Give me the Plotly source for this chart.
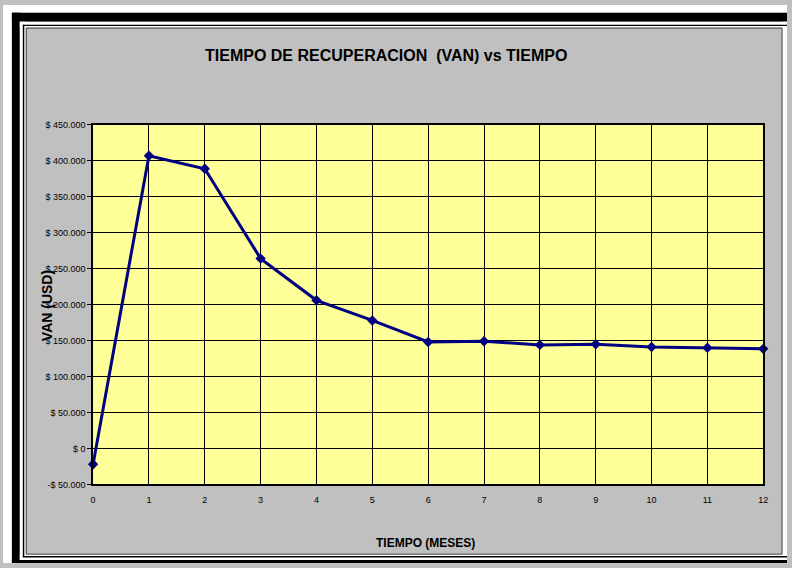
import plotly.graph_objects as go

W, H = 792, 568

# data
meses = [0, 1, 2, 3, 4, 5, 6, 7, 8, 9, 10, 11, 12]
van = [-22000, 407000, 389000, 264000, 206000, 178000, 148000,
       149000, 144000, 145000, 141000, 140000, 138500]

y_ticks = [-50000, 0, 50000, 100000, 150000, 200000, 250000, 300000, 350000, 400000, 450000]
y_labels = ["-$ 50.000", "$ 0", "$ 50.000", "$ 100.000", "$ 150.000", "$ 200.000",
            "$ 250.000", "$ 300.000", "$ 350.000", "$ 400.000", "$ 450.000"]

FONT = "Liberation Sans, Arial, sans-serif"


# page pixel -> paper fraction
def px(x):
    return x / W


def py(y):
    return 1 - y / H


fig = go.Figure()
fig.add_trace(go.Scatter(
    x=meses, y=van, mode="lines+markers",
    line=dict(color="#000080", width=3),
    marker=dict(symbol="diamond", size=8, color="#000080"),
    cliponaxis=False, showlegend=False
))


def rect(x0, y0, x1, y1, fill=None, line=None, lw=0):
    return dict(type="rect", xref="paper", yref="paper", layer="below",
                x0=px(x0), x1=px(x1), y0=py(y0), y1=py(y1),
                fillcolor=fill if fill else "rgba(0,0,0,0)",
                line=dict(color=line if line else "rgba(0,0,0,0)", width=lw))


# frame around the chart
shapes = [
    rect(0, 0, W, 8, fill="white"),
    rect(0, 0, 9, H, fill="white"),
    rect(9, 8, W, 17, fill="black"),
    rect(9, 8, 17, H, fill="black"),
    rect(9, 565, W, H, fill="black"),
    rect(17, 17, W, 23, fill="white"),
    rect(17, 17, 23, 565, fill="white"),
    rect(787, 17, W, 565, fill="white"),
    rect(17, 559, W, 565, fill="white"),
    # thin black inner frame (left, top, bottom only)
    rect(20, 20, 21.5, 562, fill="black"),
    rect(20, 20, W, 21.5, fill="black"),
    rect(20, 561, W, 562.5, fill="black"),
    rect(23.5, 23.5, 787, 559, line="#404040", lw=1),
]

fig.update_layout(
    width=W, height=H,
    margin=dict(l=0, r=0, t=0, b=0),
    paper_bgcolor="#C0C0C0",
    plot_bgcolor="#FFFF99",
    font=dict(family=FONT, color="black"),
    shapes=shapes,
    xaxis=dict(
        domain=[px(91), px(768)], range=[0, 12],
        tickvals=meses, ticktext=[str(m) for m in meses],
        showgrid=True, gridcolor="black", gridwidth=1,
        showline=True, linecolor="black", linewidth=1.5, mirror=True,
        ticks="", ticklabelstandoff=6,
        tickfont=dict(size=9, family=FONT), zeroline=False
    ),
    yaxis=dict(
        domain=[py(488), py(122)], range=[-50000, 450000],
        tickvals=y_ticks, ticktext=y_labels,
        showgrid=True, gridcolor="black", gridwidth=1,
        showline=True, linecolor="black", linewidth=1.5, mirror=True,
        ticks="outside", ticklen=4, tickcolor="black",
        tickfont=dict(size=9, family=FONT), zeroline=False
    ),
    annotations=[
        dict(text="<b>TIEMPO DE RECUPERACION  (VAN) vs TIEMPO</b>",
             xref="paper", yref="paper", x=px(387), y=py(51),
             xanchor="center", yanchor="middle",
             showarrow=False, font=dict(size=16, family=FONT)),
        dict(text="<b>VAN (USD)</b>", textangle=-90,
             xref="paper", yref="paper", x=px(44), y=py(306),
             xanchor="center", yanchor="middle",
             showarrow=False, font=dict(size=14, family=FONT)),
        dict(text="<b>TIEMPO (MESES)</b>",
             xref="paper", yref="paper", x=px(427), y=py(548),
             xanchor="center", yanchor="middle",
             showarrow=False, font=dict(size=12, family=FONT)),
    ]
)

# drop the default body margin so the figure fills the window exactly
fig.write_html("out.html",
               config={"displayModeBar": False},
               post_script="document.body.style.margin='0';"
                           "document.body.style.overflow='hidden';")
